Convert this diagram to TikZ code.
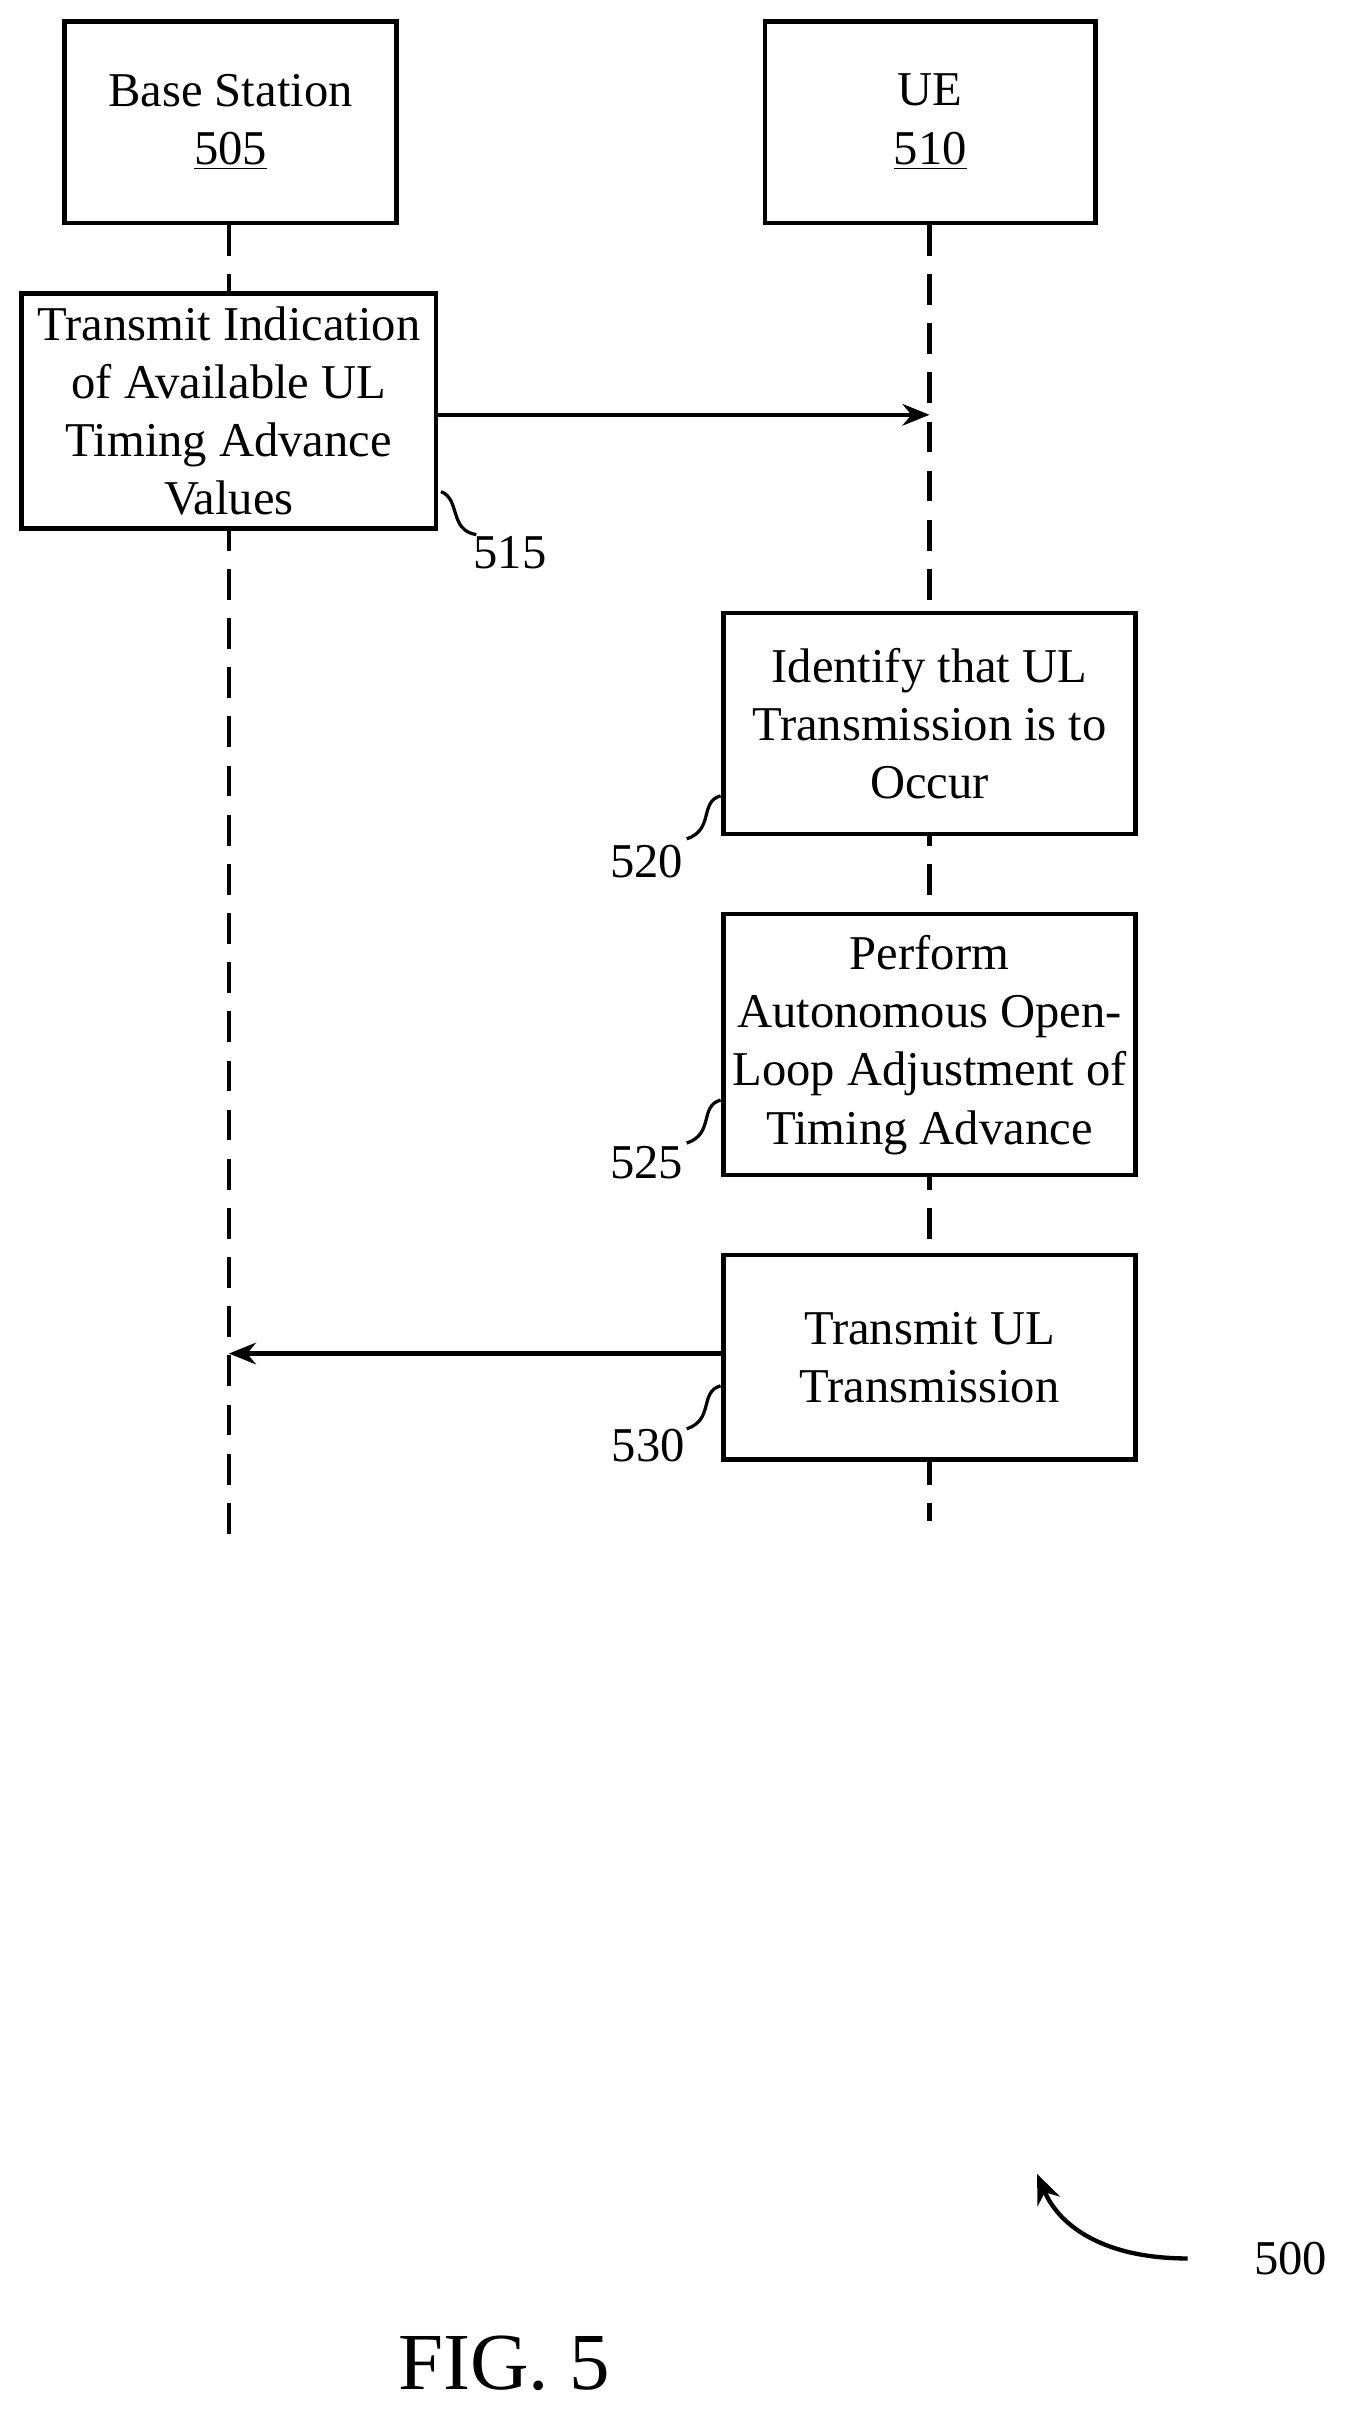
\documentclass[tikz,border=0pt]{standalone}
\usepackage{fontspec}
\setmainfont{Liberation Serif}
\usetikzlibrary{positioning}
\usetikzlibrary{arrows.meta}
\begin{document}
\begin{tikzpicture}[x=0.02cm, y=-0.02cm,
    box/.style={draw, line width=1.6pt, fill=white, align=center, inner sep=0pt,
        font=\fontsize{18}{21.6}\selectfont},
    life/.style={line width=1.6pt, dash pattern=on 0.4cm off 0.24cm},
    msg/.style={line width=1.6pt, -{Stealth[length=10pt, width=8pt]}},
    tag/.style={font=\fontsize{18}{21.6}\selectfont},
    squig/.style={line width=1.2pt}]

    \useasboundingbox (0,0) rectangle (880,1568);

    % Entities
    \node[box, minimum width=216*0.02cm, minimum height=131*0.02cm] (bs) at (150,79.5) {Base Station\\\underline{505}};
    \node[box, minimum width=215*0.02cm, minimum height=131*0.02cm] (ue) at (605.5,79.5) {UE\\\underline{510}};

    % Lifelines
    \coordinate (bsend) at (149,1010);
    \coordinate (ueend) at (605,990);
    \draw[life] (bs.south -| bsend) -- (bsend);
    \draw[life] (ue.south -| ueend) -- (ueend);

    % Steps
    \node[box, minimum width=270*0.02cm, minimum height=153*0.02cm] (s515) at (149,267.5) {Transmit Indication\\of Available UL\\Timing Advance\\Values};
    \node[box, minimum width=268*0.02cm, minimum height=144*0.02cm] (s520) at (605,471) {Identify that UL\\Transmission is to\\Occur};
    \node[box, minimum width=268*0.02cm, minimum height=170*0.02cm] (s525) at (605,680) {Perform\\Autonomous Open-\\Loop Adjustment of\\Timing Advance};
    \node[box, minimum width=268*0.02cm, minimum height=133*0.02cm] (s530) at (605,883.5) {Transmit UL\\Transmission};

    % Messages
    \coordinate (ue515) at (605,270);
    \coordinate (bs530) at (149,881);
    \draw[msg] (s515.east |- ue515) -- (ue515);
    \draw[msg] (s530.west |- bs530) -- (bs530);

    % Reference numerals
    \node[tag] (n515) at (332,360) {515};
    \node[tag] (n520) at (421,561) {520};
    \node[tag] (n525) at (421,757) {525};
    \node[tag] (n530) at (422,941) {530};
    \draw[squig] (287,320) .. controls (300,325) and (292,345) .. (310,348);
    \draw[squig] (469,518) .. controls (455,522) and (465,540) .. (447,546);
    \draw[squig] (469,716) .. controls (455,720) and (465,738) .. (447,744);
    \draw[squig] (469,902) .. controls (455,906) and (465,924) .. (447,930);

    % Figure label
    \node[tag] (n500) at (840,1470) {500};
    \draw[line width=1.6pt, -{Stealth[length=11pt, width=9pt]}] (773,1470) .. controls (720,1470) and (690,1450) .. (675,1415);
    \node[font=\fontsize{30}{36}\selectfont] (fig) at (328,1538) {FIG. 5};
\end{tikzpicture}
\end{document}
